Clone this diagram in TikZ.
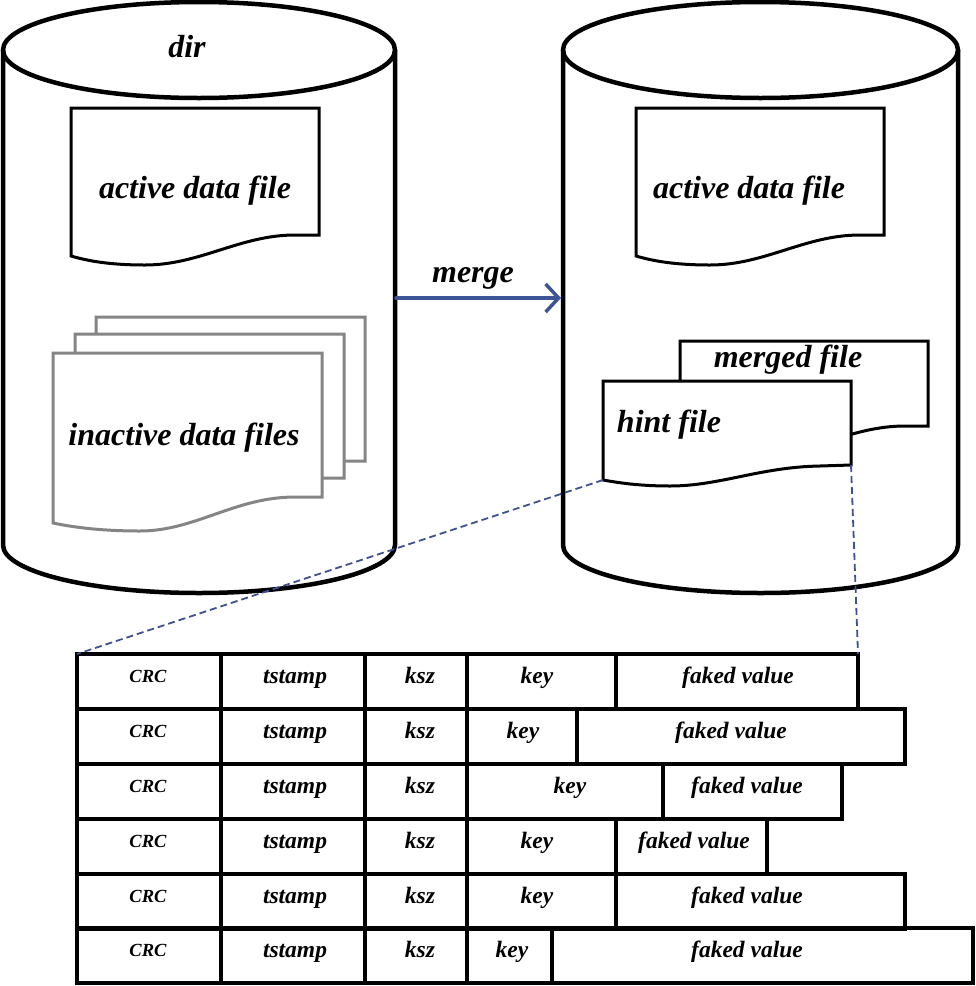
\documentclass[tikz,border=0pt]{standalone}
\usepackage{fontspec}
\setmainfont{Liberation Serif}
\usetikzlibrary{arrows.meta}
\definecolor{mergeblue}{HTML}{3D5596}
\definecolor{dashblue}{HTML}{3F518E}
\definecolor{filegray}{HTML}{858585}
\begin{document}
\begin{tikzpicture}[x=1pt,y=-1pt,
  cyl/.style={draw=black,line width=4.5pt},
  doc/.style={draw=black,fill=white,line width=3pt},
  graydoc/.style={draw=filegray,fill=white,line width=3pt},
  biglbl/.style={font=\fontsize{32}{36}\selectfont\bfseries\itshape,inner sep=0pt,anchor=base},
  tbllbl/.style={font=\fontsize{23.5}{26}\selectfont\bfseries\itshape,inner sep=0pt,anchor=base},
  crclbl/.style={font=\fontsize{18.5}{20}\selectfont\bfseries\itshape,inner sep=0pt,anchor=base},
  cell/.style={draw=black,line width=3.5pt,minimum height=55pt,inner sep=0pt,outer sep=0pt,anchor=north west},
  mergearrow/.style={draw=mergeblue,line width=3.5pt,line cap=round,-{Straight Barb[length=13pt,width=28pt,line width=3.5pt]}},
  zoomline/.style={draw=dashblue,line width=1.8pt,dash pattern=on 7pt off 4pt}]
\useasboundingbox (0,0) rectangle (976,986);
\fill[white] (0,0) rectangle (976,986);

% left cylinder
\draw[cyl] (3,50) -- (3,545) arc[start angle=180,end angle=360,x radius=196pt,y radius=48pt] -- (395,50);
\draw[cyl] (199,50) ellipse [x radius=196pt, y radius=48pt];
\coordinate (cylL-e) at (396,298);
\node[biglbl] (dir) at (187,57) {dir};

% right cylinder
\draw[cyl] (563,50) -- (563,545) arc[start angle=180,end angle=360,x radius=197.5pt,y radius=48pt] -- (958,50);
\draw[cyl] (760.5,50) ellipse [x radius=197.5pt, y radius=48pt];
\coordinate (cylR-w) at (561,298);

% active data file (left)
\draw[doc] (71,108) -- (319,108) -- (319,235) -- (295,235) .. controls (240,235) and (200,265) .. (145,265) .. controls (110,265) and (88,261) .. (71,256) -- cycle;
\node[biglbl] (actL) at (195,198) {active data file};

% inactive data files
\foreach \dx/\dy in {43/-36,22/-19,0/0}{
  \draw[graydoc,shift={(\dx,\dy)}] (53,353) -- (322,353) -- (322,497) -- (295,497) .. controls (235,497) and (195,531) .. (140,531) .. controls (100,531) and (72,527) .. (53,523) -- cycle;
}
\node[biglbl] (inact) at (184,445) {inactive data files};

% active data file (right)
\draw[doc] (636,108) -- (884,108) -- (884,235) -- (860,235) .. controls (805,235) and (765,265) .. (710,265) .. controls (675,265) and (653,261) .. (636,256) -- cycle;
\node[biglbl] (actR) at (749,198) {active data file};

% merged file
\draw[doc] (680,341) -- (928,341) -- (928,426) -- (905,426) .. controls (850,426) and (810,455) .. (760,455) .. controls (720,455) and (700,450) .. (680,447) -- cycle;
\node[biglbl] (merged) at (788,367) {merged file};

% hint file
\draw[doc] (603,381) -- (851,381) -- (851,465) -- (820,466) .. controls (760,467) and (720,486) .. (670,486) .. controls (640,486) and (620,483) .. (603,480) -- cycle;
\coordinate (hint-bl) at (603,480);
\coordinate (hint-br) at (851,465);
\node[biglbl] (hint) at (669,432) {hint file};

% merge arrow
\draw[mergearrow] (cylL-e) -- (cylR-w);
\node[biglbl] (mergelbl) at (473,282) {merge};

% table
\foreach \r/\yt/\kr/\fr/\kx/\fx in {1/654/616/858/537/738,2/709/577/905/523/731,3/764/663/842/570/747,4/819/616/767/537/694,5/874/616/905/537/747,6/928/552/973/512/747}{
  \node[cell,minimum width=144pt] (c\r-1) at (77,\yt) {};
  \node[cell,minimum width=144pt] (c\r-2) at (221,\yt) {};
  \node[cell,minimum width=102pt] (c\r-3) at (365,\yt) {};
  \pgfmathsetmacro{\kw}{\kr-467}
  \pgfmathsetmacro{\fw}{\fr-\kr}
  \node[cell,minimum width=\kw pt] (c\r-4) at (467,\yt) {};
  \node[cell,minimum width=\fw pt] (c\r-5) at (\kr,\yt) {};
  \node[crclbl] (t\r-1) at (148,\yt+28) {CRC};
  \node[tbllbl] (t\r-2) at (295,\yt+29) {tstamp};
  \node[tbllbl] (t\r-3) at (420,\yt+29) {ksz};
  \node[tbllbl] (t\r-4) at (\kx,\yt+29) {key};
  \node[tbllbl] (t\r-5) at (\fx,\yt+29) {faked value};
}

% zoom lines
\draw[zoomline] (hint-bl) -- (c1-1.north west);
\draw[zoomline] (hint-br) -- (c1-5.north east);
\end{tikzpicture}
\end{document}
